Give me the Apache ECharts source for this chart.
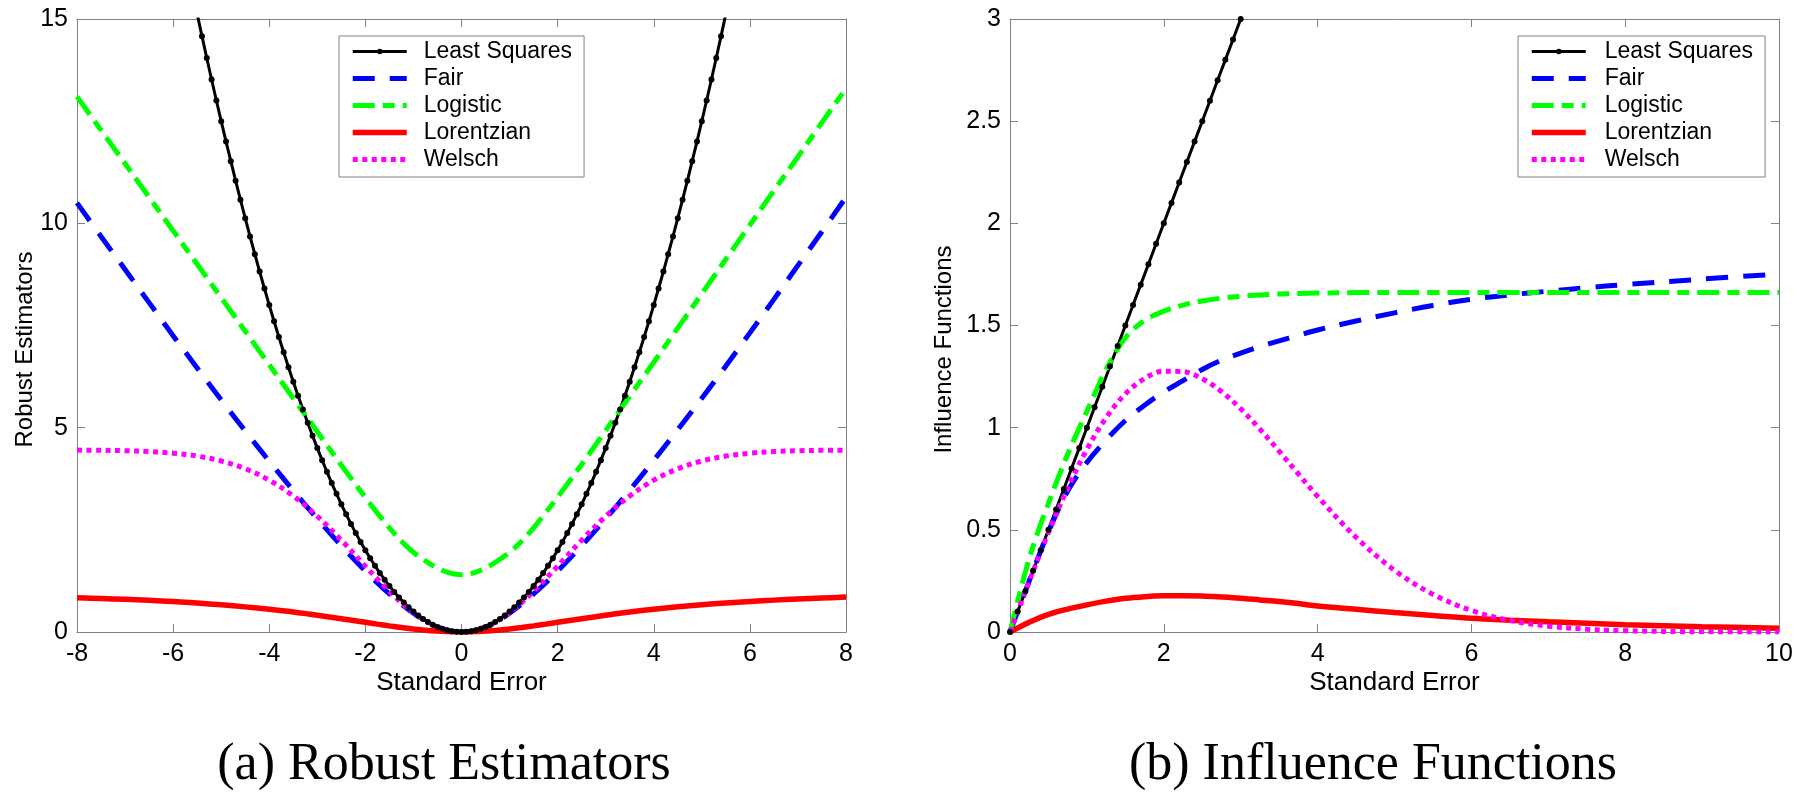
<!DOCTYPE html>
<html>
<head>
<meta charset="utf-8">
<script src="https://cdn.jsdelivr.net/npm/echarts@6/dist/echarts.min.js"></script>
<style>
html,body{margin:0;padding:0;background:#fff;}
#chart{width:1800px;height:812px;}
</style>
</head>
<body>
<div id="chart"></div>
<script>
// ---------- data: (a) Robust Estimators ----------
const rhoX = [-8,-7.5,-7,-6.5,-6,-5.5,-5,-4.5,-4,-3.5,-3,-2.5,-2,-1.75,-1.5,-1.25,-1,-0.75,-0.5,-0.25,0,0.25,0.5,0.75,1,1.25,1.5,1.75,2,2.5,3,3.5,4,4.5,5,5.5,6,6.5,7,7.5,8];
const fairRho = [10.5,9.68,8.87,8.06,7.25,6.46,5.68,4.92,4.18,3.46,2.77,2.11,1.49,1.2,0.93,0.685,0.46,0.265,0.118,0.03,0,0.03,0.118,0.265,0.46,0.685,0.93,1.2,1.49,2.11,2.77,3.47,4.2,4.95,5.72,6.51,7.32,8.14,8.97,9.8,10.64];
const logisticRho = [13.1,12.28,11.46,10.64,9.82,9.0,8.18,7.36,6.54,5.72,4.9,4.08,3.29,2.91,2.55,2.22,1.95,1.74,1.565,1.445,1.4,1.445,1.565,1.74,1.95,2.22,2.55,2.92,3.3,4.1,4.93,5.77,6.6,7.44,8.28,9.12,9.96,10.8,11.63,12.47,13.3];
const lorentzianRho = [0.84,0.82,0.8,0.775,0.745,0.708,0.665,0.615,0.556,0.489,0.411,0.326,0.238,0.193,0.15,0.11,0.075,0.045,0.022,0.006,0,0.006,0.022,0.045,0.075,0.11,0.15,0.193,0.238,0.326,0.411,0.489,0.557,0.616,0.667,0.71,0.748,0.78,0.808,0.832,0.854];
const welschRho = [4.451,4.446,4.436,4.415,4.376,4.305,4.185,3.995,3.715,3.328,2.832,2.246,1.611,1.296,0.994,0.717,0.473,0.273,0.123,0.031,0,0.031,0.123,0.273,0.473,0.717,0.994,1.296,1.611,2.246,2.832,3.328,3.715,3.995,4.185,4.305,4.376,4.415,4.436,4.446,4.451];
const lsRhoX = [-5.5,-5.4,-5.3,-5.2,-5.1,-5,-4.9,-4.8,-4.7,-4.6,-4.5,-4.4,-4.3,-4.2,-4.1,-4,-3.9,-3.8,-3.7,-3.6,-3.5,-3.4,-3.3,-3.2,-3.1,-3,-2.9,-2.8,-2.7,-2.6,-2.5,-2.4,-2.3,-2.2,-2.1,-2,-1.9,-1.8,-1.7,-1.6,-1.5,-1.4,-1.3,-1.2,-1.1,-1,-0.9,-0.8,-0.7,-0.6,-0.5,-0.4,-0.3,-0.2,-0.1,0,0.1,0.2,0.3,0.4,0.5,0.6,0.7,0.8,0.9,1,1.1,1.2,1.3,1.4,1.5,1.6,1.7,1.8,1.9,2,2.1,2.2,2.3,2.4,2.5,2.6,2.7,2.8,2.9,3,3.1,3.2,3.3,3.4,3.5,3.6,3.7,3.8,3.9,4,4.1,4.2,4.3,4.4,4.5,4.6,4.7,4.8,4.9,5,5.1,5.2,5.3,5.4,5.5];
const lsRhoY = [15.125,14.58,14.045,13.52,13.005,12.5,12.005,11.52,11.045,10.58,10.125,9.68,9.245,8.82,8.405,8,7.605,7.22,6.845,6.48,6.125,5.78,5.445,5.12,4.805,4.5,4.205,3.92,3.645,3.38,3.125,2.88,2.645,2.42,2.205,2,1.805,1.62,1.445,1.28,1.125,0.98,0.845,0.72,0.605,0.5,0.405,0.32,0.245,0.18,0.125,0.08,0.045,0.02,0.005,0,0.005,0.02,0.045,0.08,0.125,0.18,0.245,0.32,0.405,0.5,0.605,0.72,0.845,0.98,1.125,1.28,1.445,1.62,1.805,2,2.205,2.42,2.645,2.88,3.125,3.38,3.645,3.92,4.205,4.5,4.805,5.12,5.445,5.78,6.125,6.48,6.845,7.22,7.605,8,8.405,8.82,9.245,9.68,10.125,10.58,11.045,11.52,12.005,12.5,13.005,13.52,14.045,14.58,15.125];

// ---------- data: (b) Influence Functions ----------
const psiX = [0,0.25,0.5,0.75,1,1.25,1.5,1.75,2,2.25,2.5,2.75,3,3.25,3.5,3.75,4,4.5,5,5.5,6,6.5,7,7.5,8,9,10];
const fairPsi = [0,0.25,0.49,0.69,0.83,0.94,1.035,1.11,1.175,1.23,1.285,1.33,1.365,1.397,1.425,1.452,1.478,1.522,1.562,1.598,1.628,1.65,1.668,1.685,1.70,1.727,1.752];
const logisticPsi = [0,0.36,0.63,0.87,1.08,1.285,1.44,1.525,1.57,1.60,1.62,1.634,1.643,1.649,1.654,1.657,1.659,1.661,1.662,1.662,1.662,1.662,1.662,1.662,1.662,1.662,1.662];
const lorentzianPsi = [0,0.048,0.086,0.112,0.133,0.151,0.165,0.173,0.177,0.178,0.176,0.171,0.165,0.157,0.149,0.139,0.127,0.111,0.095,0.081,0.067,0.058,0.05,0.043,0.036,0.026,0.018];
const welschPsi = [0,0.2483,0.4862,0.7041,0.8938,1.0489,1.1652,1.2409,1.2764,1.2746,1.2395,1.1767,1.0923,0.9929,0.8848,0.7735,0.6636,0.4634,0.3020,0.1843,0.1054,0.0566,0.0286,0.0136,0.0061,0.0010,0.0001];
const lsPsiX = [0,0.1,0.2,0.3,0.4,0.5,0.6,0.7,0.8,0.9,1,1.1,1.2,1.3,1.4,1.5,1.6,1.7,1.8,1.9,2,2.1,2.2,2.3,2.4,2.5,2.6,2.7,2.8,2.9,3];
const lsPsiY = [0,0.1,0.2,0.3,0.4,0.5,0.6,0.7,0.8,0.9,1,1.1,1.2,1.3,1.4,1.5,1.6,1.7,1.8,1.9,2,2.1,2.2,2.3,2.4,2.5,2.6,2.7,2.8,2.9,3];

// ---------- tick / text ----------
const seriesNames = ['Least Squares','Fair','Logistic','Lorentzian','Welsch'];
const xLabelA = 'Standard Error', yLabelA = 'Robust Estimators';
const xLabelB = 'Standard Error', yLabelB = 'Influence Functions';
const captionA = '(a) Robust Estimators', captionB = '(b) Influence Functions';

const SANS = "'Liberation Sans', Arial, Helvetica, sans-serif";
const SERIF = "'Liberation Serif', 'Times New Roman', serif";
const AX = '#808080';

function pairs(xs, ys){ return xs.map((x,i)=>[x, ys[i]]); }

const styles = {
  'Least Squares': {color:'#000000', width:3, type:'solid'},
  'Fair': {color:'#0000ff', width:5, type:[22,15]},
  'Logistic': {color:'#00ff00', width:5, type:[22,8,12,8]},
  'Lorentzian': {color:'#ff0000', width:5.5, type:'solid'},
  'Welsch': {color:'#ff00ff', width:5, type:[5,4.5]}
};

function mkSeries(name, data, xi, yi){
  const st = styles[name];
  const isLS = name === 'Least Squares';
  return {
    name, type:'line', xAxisIndex:xi, yAxisIndex:yi, data,
    smooth: isLS ? false : 0.35,
    symbol: isLS ? 'circle' : 'none', symbolSize: 6, showSymbol: isLS,
    itemStyle:{color: st.color},
    lineStyle:{color: st.color, width: st.width, type: st.type, cap:'butt'},
    clip:true, animation:false, silent:true
  };
}

function mainX(gi, min, max, name){
  return {gridIndex:gi, type:'value', min, max, interval:2, position:'bottom',
    axisLine:{show:true, onZero:false, lineStyle:{color:AX, width:1}},
    axisTick:{show:true, inside:true, length:8, lineStyle:{color:AX}},
    axisLabel:{color:'#000', fontSize:25, fontFamily:SANS, margin:10},
    splitLine:{show:false},
    name, nameLocation:'middle', nameGap:38, nameMoveOverlap:false,
    nameTextStyle:{color:'#000', fontSize:26, fontFamily:SANS}};
}
function topX(gi, min, max){
  return {gridIndex:gi, type:'value', min, max, interval:2, position:'top',
    axisLine:{show:true, onZero:false, lineStyle:{color:AX, width:1}},
    axisTick:{show:true, inside:true, length:8, lineStyle:{color:AX}},
    axisLabel:{show:false}, splitLine:{show:false}};
}
function mainY(gi, min, max, interval, name, gap){
  return {gridIndex:gi, type:'value', min, max, interval, position:'left',
    axisLine:{show:true, onZero:false, lineStyle:{color:AX, width:1}},
    axisTick:{show:true, inside:true, length:8, lineStyle:{color:AX}},
    axisLabel:{color:'#000', fontSize:25, fontFamily:SANS, margin:9},
    splitLine:{show:false},
    name, nameLocation:'middle', nameGap:gap, nameRotate:90, nameMoveOverlap:false,
    nameTextStyle:{color:'#000', fontSize:24, fontFamily:SANS, padding:[0,48,0,0]}};
}
function rightY(gi, min, max, interval){
  return {gridIndex:gi, type:'value', min, max, interval, position:'right',
    axisLine:{show:true, onZero:false, lineStyle:{color:AX, width:1}},
    axisTick:{show:true, inside:true, length:8, lineStyle:{color:AX}},
    axisLabel:{show:false}, splitLine:{show:false}};
}

function mkLegend(left, textPad){
  return {
    orient:'vertical', left, top:36, selectedMode:false,
    itemWidth:54, itemHeight:7, itemGap:0,
    backgroundColor:'#fff', borderColor:AX, borderWidth:1,
    padding:[2,12,4,11],
    textStyle:{color:'#000', fontSize:23, fontFamily:SANS, lineHeight:27, padding:[0,0,0,textPad]},
    lineStyle:{width:'inherit'},
    data: seriesNames.map(n => n === 'Least Squares' ? {name:n} : {name:n, itemStyle:{opacity:0}})
  };
}

const chart = echarts.init(document.getElementById('chart'), null, {renderer:'canvas'});
chart.setOption({
  animation:false,
  backgroundColor:'#fff',
  grid:[
    {left:77, top:19, width:769, height:613},
    {left:1010, top:19, width:769, height:613}
  ],
  xAxis:[ mainX(0,-8,8,xLabelA), topX(0,-8,8), mainX(1,0,10,xLabelB), topX(1,0,10) ],
  yAxis:[ mainY(0,0,15,5,yLabelA,40), rightY(0,0,15,5), mainY(1,0,3,0.5,yLabelB,54), rightY(1,0,3,0.5) ],
  legend:[ mkLegend(339,12), mkLegend(1518,14) ],
  series:[
    mkSeries('Least Squares', pairs(lsRhoX, lsRhoY), 0, 0),
    mkSeries('Fair', pairs(rhoX, fairRho), 0, 0),
    mkSeries('Logistic', pairs(rhoX, logisticRho), 0, 0),
    mkSeries('Lorentzian', pairs(rhoX, lorentzianRho), 0, 0),
    mkSeries('Welsch', pairs(rhoX, welschRho), 0, 0),
    mkSeries('Least Squares', pairs(lsPsiX, lsPsiY), 2, 2),
    mkSeries('Fair', pairs(psiX, fairPsi), 2, 2),
    mkSeries('Logistic', pairs(psiX, logisticPsi), 2, 2),
    mkSeries('Lorentzian', pairs(psiX, lorentzianPsi), 2, 2),
    mkSeries('Welsch', pairs(psiX, welschPsi), 2, 2)
  ],
  graphic:[
    {type:'text', x:444, y:765, silent:true,
     style:{text:captionA, fontSize:52, fontFamily:SERIF, fill:'#000', align:'center', verticalAlign:'middle'}},
    {type:'text', x:1373, y:765, silent:true,
     style:{text:captionB, fontSize:52, fontFamily:SERIF, fill:'#000', align:'center', verticalAlign:'middle'}}
  ]
});
</script>
</body>
</html>
